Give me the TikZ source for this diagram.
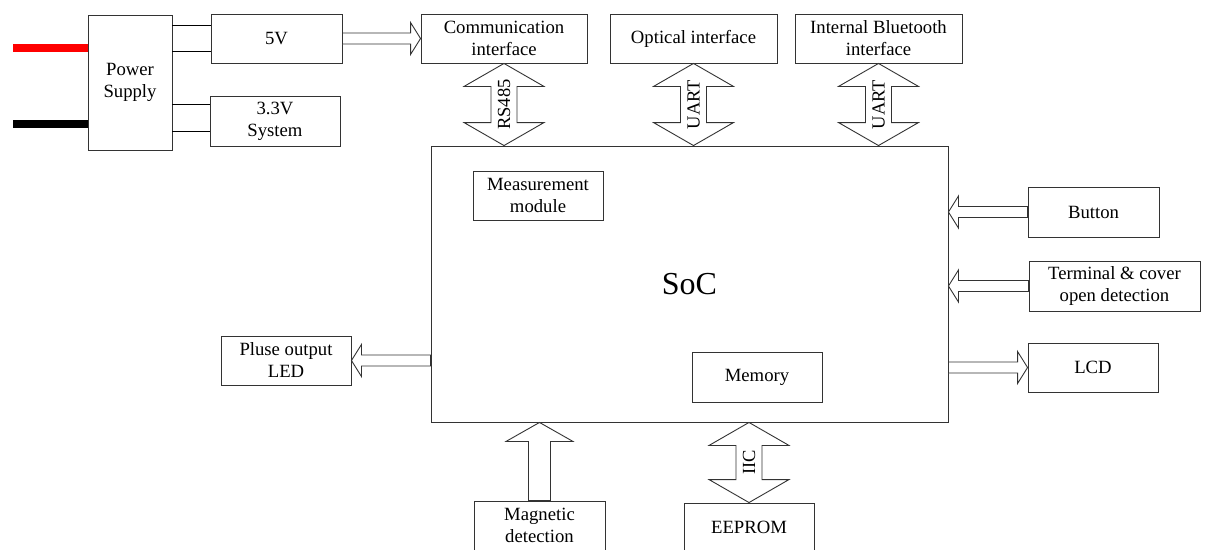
\documentclass[tikz,border=0pt]{standalone}
\usepackage{fontspec}
\setmainfont{Liberation Serif}
\usetikzlibrary{calc}
\tikzset{
  box/.style={draw=black!80, line width=0.9pt, fill=white, inner sep=0pt, align=center,
              font=\fontsize{18.7}{22}\selectfont},
  arr/.style={draw=black!80, line width=0.9pt, fill=white, line join=miter},
  lbl/.style={font=\fontsize{18.5}{22}\selectfont, inner sep=0pt},
  wire/.style={draw=black, line width=1pt},
  cable/.style={line width=8pt},
}
% vertical double arrow: #1 top tip, #2 bottom tip
\newcommand{\vdbl}[2]{\draw[arr] let \p1=(#1), \p2=(#2) in
  ({\x1},{\y1}) -- ({\x1+40pt},{\y1-23pt}) -- ({\x1+13pt},{\y1-23pt}) --
  ({\x1+13pt},{\y2+23pt}) -- ({\x1+40pt},{\y2+23pt}) -- ({\x1},{\y2}) --
  ({\x1-40pt},{\y2+23pt}) -- ({\x1-13pt},{\y2+23pt}) -- ({\x1-13pt},{\y1-23pt}) --
  ({\x1-40pt},{\y1-23pt}) -- cycle;}
% vertical single arrow pointing up: #1 tail (bottom), #2 tip (top)
\newcommand{\vup}[2]{\draw[arr] let \p1=(#1), \p2=(#2) in
  ({\x1-11pt},{\y1}) -- ({\x1-11pt},{\y2-19pt}) -- ({\x1-33.5pt},{\y2-19pt}) --
  ({\x1},{\y2}) -- ({\x1+33.5pt},{\y2-19pt}) -- ({\x1+11pt},{\y2-19pt}) --
  ({\x1+11pt},{\y1}) -- cycle;}
% horizontal arrow pointing right: #1 tail, #2 tip
\newcommand{\rarr}[2]{\draw[arr] let \p1=(#1), \p2=(#2) in
  ({\x1},{\y1+5.5pt}) -- ({\x2-10pt},{\y1+5.5pt}) -- ({\x2-10pt},{\y1+16pt}) --
  ({\x2},{\y1}) -- ({\x2-10pt},{\y1-16pt}) -- ({\x2-10pt},{\y1-5.5pt}) --
  ({\x1},{\y1-5.5pt}) -- cycle;}
% horizontal arrow pointing left: #1 tail, #2 tip
\newcommand{\larr}[2]{\draw[arr] let \p1=(#1), \p2=(#2) in
  ({\x1},{\y1+5.5pt}) -- ({\x2+10pt},{\y1+5.5pt}) -- ({\x2+10pt},{\y1+16pt}) --
  ({\x2},{\y1}) -- ({\x2+10pt},{\y1-16pt}) -- ({\x2+10pt},{\y1-5.5pt}) --
  ({\x1},{\y1-5.5pt}) -- cycle;}
\begin{document}
\begin{tikzpicture}[x=1pt,y=-1pt]
\useasboundingbox (0,0) rectangle (1206,549);
\clip (0,0) rectangle (1206,549);
\fill[white] (0,0) rectangle (1206,549);

% boxes
\node[box, minimum width=84pt,  minimum height=135pt] (ps)   at (130,82.5)   {Power\\Supply};
\node[box, minimum width=131pt, minimum height=49pt]  (v5)   at (276.5,38.5) {5V};
\node[box, minimum width=130pt, minimum height=50pt]  (v33)  at (275,121)    {3.3V\\System};
\node[box, minimum width=166pt, minimum height=49pt]  (comm) at (504,38.5)   {Communication\\interface};
\node[box, minimum width=167pt, minimum height=49pt]  (opt)  at (693.5,38.5) {Optical interface};
\node[box, minimum width=167pt, minimum height=49pt]  (bt)   at (878.5,38.5) {Internal Bluetooth\\interface};
\node[box, minimum width=517pt, minimum height=276pt, font=\fontsize{32}{36}\selectfont] (soc) at (689.5,284) {SoC};
\node[box, minimum width=130pt, minimum height=49pt]  (meas) at (538,195.5)  {Measurement\\module};
\node[box, minimum width=130pt, minimum height=50pt]  (mem)  at (757,377)    {Memory};
\node[box, minimum width=130pt, minimum height=49pt]  (led)  at (286,360.5)  {Pluse output\\LED};
\node[box, minimum width=131pt, minimum height=50pt]  (btn)  at (1093.5,212) {Button};
\node[box, minimum width=171pt, minimum height=50pt]  (term) at (1114.5,286) {Terminal \& cover\\open detection};
\node[box, minimum width=130pt, minimum height=49pt]  (lcd)  at (1093,367.5) {LCD};
\node[box, minimum width=131pt, minimum height=49pt]  (mag)  at (539.5,525.5) {Magnetic\\detection};
\node[box, minimum width=130pt, minimum height=49pt]  (eep)  at (749,527.5)  {EEPROM};

% power cables
\coordinate (rin) at (13,48);
\coordinate (kin) at (13,123.5);
\draw[cable, red]   (rin) -- (rin -| ps.west);
\draw[cable, black] (kin) -- (kin -| ps.west);

% power wires
\coordinate (v5a)  at ($(v5.west)+(0,-13.5)$);
\coordinate (v5b)  at ($(v5.west)+(0,12.5)$);
\coordinate (v33a) at ($(v33.west)+(0,-17)$);
\coordinate (v33b) at ($(v33.west)+(0,10)$);
\draw[wire] (v5a -| ps.east) -- (v5a);
\draw[wire] (v5b -| ps.east) -- (v5b);
\draw[wire] (v33a -| ps.east) -- (v33a);
\draw[wire] (v33b -| ps.east) -- (v33b);

% horizontal arrows
\rarr{v5.east}{comm.west}
\larr{led.east -| soc.west}{led.east}
\larr{btn.west}{btn.west -| soc.east}
\larr{term.west}{term.west -| soc.east}
\rarr{lcd.west -| soc.east}{lcd.west}

% vertical arrows
\vdbl{comm.south}{comm.south |- soc.north}
\vdbl{opt.south}{opt.south |- soc.north}
\vdbl{bt.south}{bt.south |- soc.north}
\vdbl{eep.north |- soc.south}{eep.north}
\vup{mag.north}{mag.north |- soc.south}

% arrow labels
\path (comm.south) -- (comm.south |- soc.north) node[midway, lbl, rotate=90] (l485) {RS485};
\path (opt.south) -- (opt.south |- soc.north) node[midway, lbl, rotate=90] (luart1) {UART};
\path (bt.south) -- (bt.south |- soc.north) node[midway, lbl, rotate=90] (luart2) {UART};
\path (eep.north |- soc.south) -- (eep.north) node[midway, lbl, rotate=90] (liic) {IIC};
\end{tikzpicture}
\end{document}
